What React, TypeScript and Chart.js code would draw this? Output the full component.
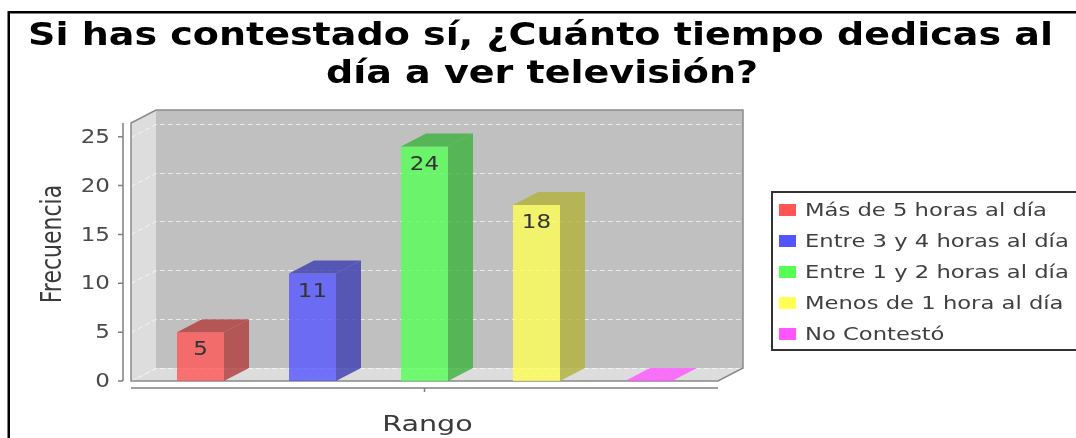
import React, { useEffect, useRef } from "react";
import { Chart, registerables } from "chart.js";

Chart.register(...registerables);

const CATEGORIES = ["Rango"];
const SERIES = [
  "Más de 5 horas al día",
  "Entre 3 y 4 horas al día",
  "Entre 1 y 2 horas al día",
  "Menos de 1 hora al día",
  "No Contestó",
];
const VALUES = [5, 11, 24, 18, 0];
const COLORS = ["#FF5555", "#5555FF", "#55FF55", "#FFFF55", "#FF55FF"];
const Y_TICKS = [0, 5, 10, 15, 20, 25];
const Y_MAX = 26.4;
const TITLE_LINES = ["Si has contestado sí, ¿Cuánto tiempo dedicas al", "día a ver televisión?"];
const X_TITLE = "Rango";
const Y_TITLE = "Frecuencia";

const W = 1076;
const H = 438;
const DX = 25;
const DY = 13;
const FONT = '"DejaVu Sans", sans-serif';

function hexToRgb(h: string) {
  const n = parseInt(h.slice(1), 16);
  return [(n >> 16) & 255, (n >> 8) & 255, n & 255];
}
function rgba(h: string, a: number, f = 1) {
  const [r, g, b] = hexToRgb(h);
  return `rgba(${Math.floor(r * f)},${Math.floor(g * f)},${Math.floor(b * f)},${a})`;
}

function txt(
  ctx: CanvasRenderingContext2D,
  s: string,
  x: number,
  y: number,
  font: string,
  color: string,
  align: CanvasTextAlign,
  sx = 1,
  baseline: CanvasTextBaseline = "alphabetic"
) {
  ctx.save();
  ctx.font = font;
  ctx.fillStyle = color;
  ctx.textAlign = align;
  ctx.textBaseline = baseline;
  ctx.translate(x, y);
  ctx.scale(sx, 1);
  ctx.fillText(s, 0, 0);
  ctx.restore();
}

function poly(ctx: CanvasRenderingContext2D, pts: number[][], fill?: string, stroke?: string, lw = 1) {
  ctx.beginPath();
  ctx.moveTo(pts[0][0], pts[0][1]);
  for (let i = 1; i < pts.length; i++) ctx.lineTo(pts[i][0], pts[i][1]);
  ctx.closePath();
  if (fill) {
    ctx.fillStyle = fill;
    ctx.fill();
  }
  if (stroke) {
    ctx.strokeStyle = stroke;
    ctx.lineWidth = lw;
    ctx.stroke();
  }
}

const plot3d = {
  id: "plot3d",
  beforeDatasetsDraw(chart: any) {
    const ctx: CanvasRenderingContext2D = chart.ctx;
    const { left, right, top, bottom } = chart.chartArea;
    const y = chart.scales.y;

    ctx.save();
    // outer frame
    ctx.strokeStyle = "#000";
    ctx.lineWidth = 2.5;
    ctx.strokeRect(8.75, 12.25, W + 50, H + 50);

    // title
    const tf = `bold 32px ${FONT}`;
    ctx.font = tf;
    const tsx = 1025 / ctx.measureText(TITLE_LINES[0]).width;
    txt(ctx, TITLE_LINES[0], 540.5, 45, tf, "#000", "center", tsx);
    txt(ctx, TITLE_LINES[1], 542, 83, tf, "#000", "center", tsx);

    // walls
    poly(ctx, [[left + DX, top - DY], [right + DX, top - DY], [right + DX, bottom - DY], [left + DX, bottom - DY]], "#C0C0C0");
    poly(ctx, [[left, top], [left + DX, top - DY], [left + DX, bottom - DY], [left, bottom]], "#DDDDDD");
    poly(ctx, [[left, bottom], [left + DX, bottom - DY], [right + DX, bottom - DY], [right, bottom]], "#DDDDDD");

    // gridlines
    ctx.save();
    ctx.setLineDash([5, 3]);
    ctx.lineWidth = 1;
    ctx.strokeStyle = "rgba(255,255,255,0.65)";
    for (const v of Y_TICKS) {
      const py = Math.round(y.getPixelForValue(v)) + 0.5;
      ctx.beginPath();
      ctx.moveTo(left, py);
      ctx.lineTo(left + DX, py - DY);
      ctx.lineTo(right + DX, py - DY);
      ctx.stroke();
    }
    ctx.restore();

    // outline
    ctx.strokeStyle = "#8A8A8A";
    ctx.lineWidth = 1.5;
    ctx.beginPath();
    ctx.moveTo(left, bottom);
    ctx.lineTo(left, top);
    ctx.lineTo(left + DX, top - DY);
    ctx.lineTo(right + DX, top - DY);
    ctx.lineTo(right + DX, bottom - DY);
    ctx.lineTo(right, bottom);
    ctx.closePath();
    ctx.stroke();

    // y axis
    const ax = left - 8;
    ctx.strokeStyle = "#808080";
    ctx.lineWidth = 1.5;
    ctx.beginPath();
    ctx.moveTo(ax, top);
    ctx.lineTo(ax, bottom);
    for (const v of Y_TICKS) {
      const py = y.getPixelForValue(v);
      ctx.moveTo(ax - 5, py);
      ctx.lineTo(ax, py);
    }
    ctx.stroke();
    for (const v of Y_TICKS) {
      const py = y.getPixelForValue(v);
      txt(ctx, String(v), ax - 13, py + 1, `20px ${FONT}`, "#4a4a4a", "right", 1.15, "middle");
    }

    // x axis
    const xa = bottom + 7;
    const cx = chart.scales.x.getPixelForValue(0);
    ctx.beginPath();
    ctx.moveTo(left, xa);
    ctx.lineTo(right, xa);
    ctx.moveTo(cx, xa);
    ctx.lineTo(cx, xa + 4);
    ctx.stroke();

    // axis titles
    txt(ctx, X_TITLE, cx + 3, 431, `22px ${FONT}`, "#3a3a3a", "center", 1.3);
    ctx.save();
    ctx.translate(54, 244);
    ctx.scale(1.3, 1);
    ctx.rotate(-Math.PI / 2);
    ctx.font = `22px ${FONT}`;
    ctx.fillStyle = "#3a3a3a";
    ctx.textAlign = "center";
    ctx.textBaseline = "middle";
    ctx.fillText(Y_TITLE, 0, 0);
    ctx.restore();

    // legend
    ctx.fillStyle = "#fff";
    ctx.fillRect(772, 192, 320, 158);
    ctx.strokeStyle = "#333";
    ctx.lineWidth = 2;
    ctx.strokeRect(772, 192, 320, 158);
    const lf = `18px ${FONT}`;
    ctx.font = lf;
    const lsx = 242 / ctx.measureText(SERIES[0]).width;
    SERIES.forEach((s, i) => {
      const ry = 210 + i * 31;
      ctx.fillStyle = COLORS[i];
      ctx.fillRect(779, ry - 6, 17, 12);
      txt(ctx, s, 805, ry + 1, lf, "#3f3f3f", "left", lsx, "middle");
    });
    ctx.restore();
  },
  afterDatasetsDraw(chart: any) {
    const ctx: CanvasRenderingContext2D = chart.ctx;
    ctx.save();
    chart.data.datasets.forEach((ds: any, i: number) => {
      const meta = chart.getDatasetMeta(i);
      meta.data.forEach((bar: any, j: number) => {
        const { x, y, base, width } = bar.getProps(["x", "y", "base", "width"], true);
        const x0 = x - width / 2;
        const x1 = x + width / 2;
        const flat = base - y < 0.5;
        const side = flat ? rgba(COLORS[i], 0.8) : rgba(COLORS[i], 0.8, 0.7);
        // top face
        poly(ctx, [[x0, y], [x0 + DX, y - DY], [x1 + DX, y - DY], [x1, y]], side);
        // right face
        if (!flat) {
          poly(ctx, [[x1, y], [x1 + DX, y - DY], [x1 + DX, base - DY], [x1, base]], side);
        }
        const v = ds.data[j];
        if (v > 0) {
          txt(ctx, String(v), x, y + 18, `20px ${FONT}`, "#333", "center", 1.15, "middle");
        }
      });
    });
    ctx.restore();
  },
};

export default function App() {
  const ref = useRef<HTMLCanvasElement | null>(null);
  useEffect(() => {
    if (!ref.current) return;
    const chart = new Chart(ref.current, {
      type: "bar",
      data: {
        labels: CATEGORIES,
        datasets: SERIES.map((s, i) => ({
          label: s,
          data: [VALUES[i]],
          backgroundColor: rgba(COLORS[i], 0.8),
          borderWidth: 0,
          categoryPercentage: 560 / 587,
          barPercentage: 47 / 112,
        })),
      },
      options: {
        responsive: false,
        animation: false,
        devicePixelRatio: 1,
        layout: { padding: { left: 131, right: W - 718, top: 123, bottom: H - 381 } },
        scales: {
          x: { display: false },
          y: { display: false, min: 0, max: Y_MAX },
        },
        plugins: {
          legend: { display: false },
          title: { display: false },
          tooltip: { enabled: false },
        },
      },
      plugins: [plot3d],
    });
    return () => chart.destroy();
  }, []);
  return (
    <canvas
      ref={ref}
      width={W}
      height={H}
      style={{ position: "absolute", left: 0, top: 0, width: W, height: H, display: "block" }}
    />
  );
}
